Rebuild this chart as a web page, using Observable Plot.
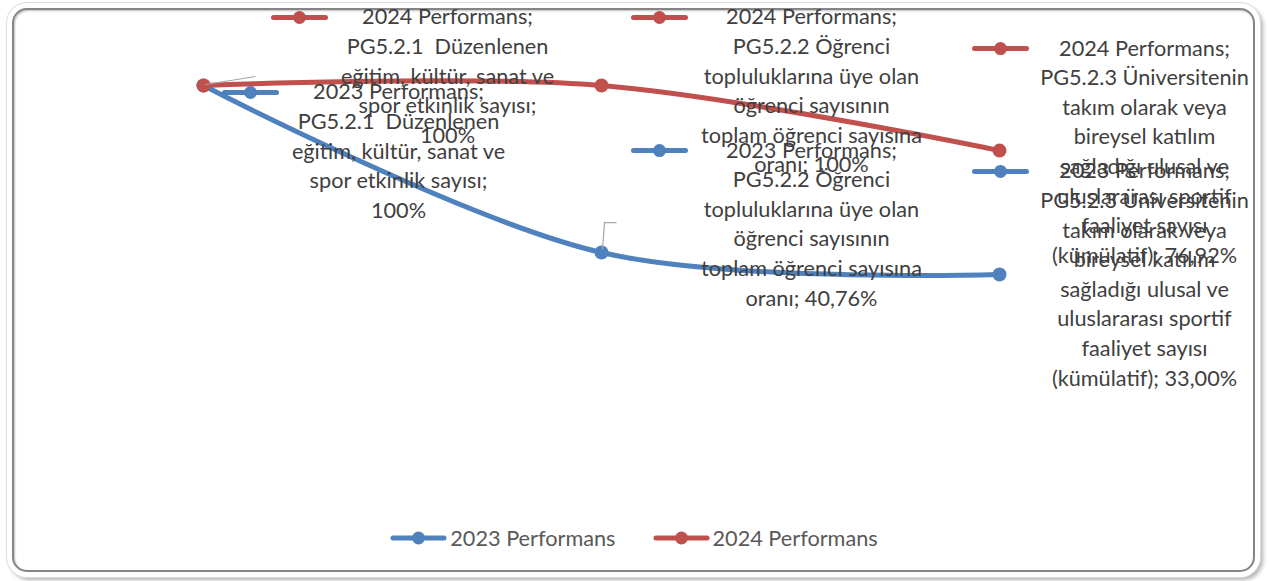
<!DOCTYPE html>
<html>
<head>
<meta charset="utf-8">
<script src="https://cdn.jsdelivr.net/npm/d3@7"></script>
<script src="https://cdn.jsdelivr.net/npm/@observablehq/plot@0.6"></script>
<style>
html, body { margin: 0; padding: 0; background: #fff; }
#wrap { position: relative; width: 1269px; height: 581px; overflow: hidden; font-family: Lato, "Open Sans", sans-serif; }
#frame { position: absolute; left: 12px; top: 8px; width: 1243px; height: 564px; box-sizing: border-box;
  border-radius: 15px; border: 2px solid #858585;
  box-shadow: inset 1px 1px 2px rgba(0,0,0,0.25), 0 0 0 5px #fff, 0 0 0 6px #dcdcdc, 3px 3px 4px 5px rgba(0,0,0,0.3); }
#chart { position: absolute; left: 0; top: 0; }
#legend { position: absolute; left: 0; top: 525px; width: 1268px; display: flex; justify-content: center; align-items: center; gap: 37px; color: #595959; }
.item { display: flex; align-items: center; }
.item svg { display: block; margin-right: 3px; }
</style>
</head>
<body>
<div id="wrap">
  <div id="frame"></div>
  <div id="chart"></div>
  <div id="legend"></div>
</div>
<script>
// ---------- data ----------
const categories = [
  "PG5.2.1  Düzenlenen eğitim, kültür, sanat ve spor etkinlik sayısı",
  "PG5.2.2 Öğrenci topluluklarına üye olan öğrenci sayısının toplam öğrenci sayısına oranı",
  "PG5.2.3 Üniversitenin takım olarak veya bireysel katılım sağladığı ulusal ve uluslararası sportif faaliyet sayısı (kümülatif)"
];
const seriesNames = ["2023 Performans", "2024 Performans"];
const values2023 = [100, 40.76, 33.00];
const values2024 = [100, 100, 76.92];
const valueText2023 = ["100%", "40,76%", "33,00%"];
const valueText2024 = ["100%", "100%", "76,92%"];
const categoryLines = [
  ["PG5.2.1  Düzenlenen", "eğitim, kültür, sanat ve", "spor etkinlik sayısı;"],
  ["PG5.2.2 Öğrenci", "topluluklarına üye olan", "öğrenci sayısının", "toplam öğrenci sayısına", "oranı;"],
  ["PG5.2.3 Üniversitenin", "takım olarak veya", "bireysel katılım", "sağladığı ulusal ve", "uluslararası sportif", "faaliyet sayısı", "(kümülatif);"]
];
const seriesColors = ["#4F81BD", "#C0504D"];

// ---------- layout (pixel offsets of the data labels from their points) ----------
const valueOnNewLine = [true, false, false];
const labelLayout = [
  [{tx: 195, ty: 7, kx: 47}, {tx: 210, ty: -102, kx: 58}, {tx: 145, ty: -103, kx: 1}],
  [{tx: 244, ty: -68, kx: 96}, {tx: 210, ty: -68, kx: 58}, {tx: 145, ty: -102, kx: 1}]
];

// font size fitted so the label text width matches
const cv = document.createElement("canvas").getContext("2d");
cv.font = "100px Lato";
const fs = Math.round(100 * 171 / cv.measureText("2024 Performans;").width * 10) / 10;
const lineH = 29.6;

const allValues = [values2023, values2024];
const allValueText = [valueText2023, valueText2024];
const rows = seriesNames.flatMap((s, si) => categories.map((c, ci) => {
  const lines = categoryLines[ci].slice();
  const last = lines.length - 1;
  if (valueOnNewLine[ci]) lines.push(allValueText[si][ci]);
  else lines[last] = lines[last] + " " + allValueText[si][ci];
  return {series: s, si, ci, category: c, value: allValues[si][ci], label: s + ";\n" + lines.join("\n")};
}));

const keySymbol = {
  draw(ctx) {
    ctx.moveTo(-26, 0); ctx.lineTo(26, 0);
    ctx.moveTo(4, 0); ctx.arc(0, 0, 4, 0, 2 * Math.PI);
  }
};
const leaderA = { draw(ctx) { ctx.moveTo(2, -1); ctx.lineTo(52, -9); } };
const leaderB = { draw(ctx) { ctx.moveTo(1, -3); ctx.lineTo(3, -30); ctx.lineTo(15, -30); } };

const labelMarks = rows.flatMap(r => {
  const L = labelLayout[r.si][r.ci];
  const col = seriesColors[r.si];
  return [
    Plot.dot([r], {x: "category", y: "value", dx: L.kx, dy: L.ty, symbol: keySymbol,
      stroke: col, fill: col, strokeWidth: 5, strokeLinecap: "round"}),
    Plot.text([r], {x: "category", y: "value", text: "label", dx: L.tx, dy: L.ty - 0.37 * fs - 6,
      lineAnchor: "top", textAnchor: "middle", lineHeight: lineH / fs, fontSize: fs,
      fill: "#404040", fontFamily: "Lato, 'Open Sans', sans-serif"})
  ];
});

const chart = Plot.plot({
  width: 1269,
  height: 520,
  style: {background: "transparent", overflow: "visible"},
  x: {type: "point", domain: categories, range: [203, 999], padding: 0, axis: null},
  y: {domain: [0, 100], range: [367, 85], axis: null},
  color: {domain: seriesNames, range: seriesColors},
  marks: [
    Plot.line(rows, {x: "category", y: "value", stroke: "series", z: "series", strokeWidth: 5,
      curve: "catmull-rom", strokeLinecap: "round", strokeLinejoin: "round"}),
    Plot.dot(rows, {x: "category", y: "value", fill: "series", r: 7}),
    Plot.dot(rows.filter(r => r.si === 1 && r.ci === 0), {x: "category", y: "value", symbol: leaderA, stroke: "#a6a6a6", fill: "none", strokeWidth: 1.2}),
    Plot.dot(rows.filter(r => r.si === 0 && r.ci === 1), {x: "category", y: "value", symbol: leaderB, stroke: "#a6a6a6", fill: "none", strokeWidth: 1.2}),
    ...labelMarks
  ]
});
document.getElementById("chart").appendChild(chart);

// legend
const legend = document.getElementById("legend");
seriesNames.forEach((s, i) => {
  const item = document.createElement("div");
  item.className = "item";
  item.innerHTML = `<svg width="57" height="16"><line x1="3" y1="8" x2="54" y2="8" stroke="${seriesColors[i]}" stroke-width="5" stroke-linecap="round"/><circle cx="28.5" cy="8" r="6.5" fill="${seriesColors[i]}"/></svg><span style="font-size:${fs}px">${s}</span>`;
  legend.appendChild(item);
});
</script>
</body>
</html>
